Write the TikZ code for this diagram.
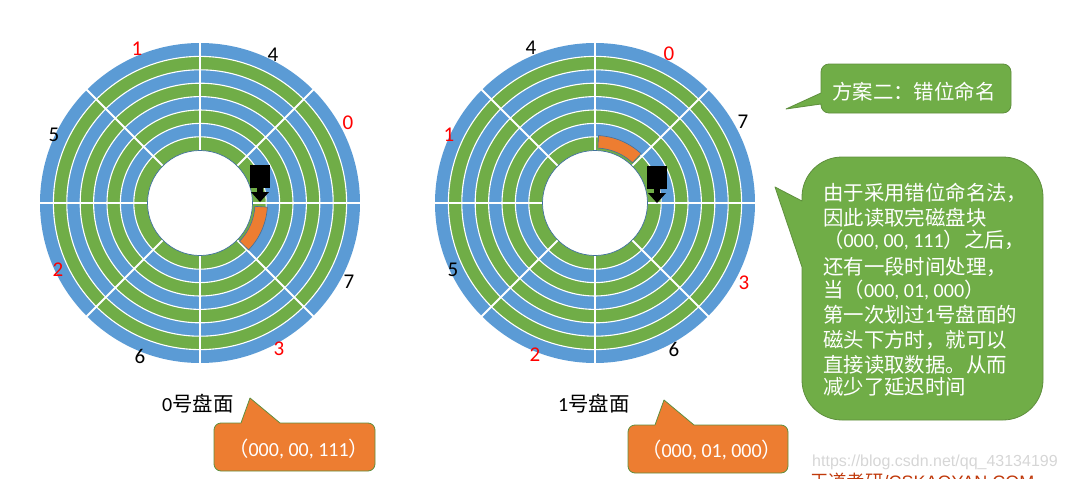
\documentclass[tikz,border=0pt]{standalone}
\usepackage{fontspec}
\setmainfont{Carlito}
\newfontfamily\cjk[Scale=1.02]{Noto Sans CJK SC}
\newfontfamily\arialish{Liberation Sans}
\definecolor{ringblue}{HTML}{5B9BD5}
\definecolor{ringgreen}{HTML}{70AD47}
\definecolor{boxorange}{HTML}{ED7D31}
\definecolor{edgegreen}{HTML}{5F8F3E}
\definecolor{edgeblue}{HTML}{41719C}
\definecolor{brand}{HTML}{C0390B}
\tikzset{
  x=1pt,y=-1pt,
  sep/.style={white,line width=2pt},
  ringline/.style={draw=white,line width=1.1pt},
  lbl/.style={font=\fontsize{21}{21}\selectfont,inner sep=0pt},
  redlbl/.style={lbl,text=red},
  caption/.style={font=\fontsize{20}{20}\selectfont,inner sep=0pt,anchor=base west},
  bubble/.style={draw=edgegreen,line width=.8pt,line join=round},
  bubtext/.style={font=\fontsize{20}{20}\selectfont,text=white,inner sep=0pt,anchor=base west},
  sector/.style={fill=boxorange,draw=edgeblue,line width=.6pt},
}
\newcommand{\platter}[2]{%
  \begin{scope}[shift={(#1,#2)}]
    \foreach \r/\c in {160/ringblue,146.6/ringgreen,133.2/ringblue,119.8/ringgreen,106.4/ringblue,93/ringgreen,79.6/ringblue,66.2/ringgreen}
      \fill[\c] (0,0) circle[radius=\r];
    \foreach \r in {146.6,133.2,119.8,106.4,93,79.6,66.2}
      \draw[ringline] (0,0) circle[radius=\r];
    \foreach \a in {0,45,90,135}
      \draw[sep] (\a:161) -- (\a+180:161);
    \fill[white,draw=edgeblue,line width=.7pt] (0,0) circle[radius=52.5];
  \end{scope}}
\newcommand{\orangeseg}[4]{%
  \begin{scope}[shift={(#1,#2)}]
    \draw[sector] plot[domain=#3:#4,samples=16] (\x:67.5) -- plot[domain=#4:#3,samples=16] (\x:55) -- cycle;
  \end{scope}}
\newcommand{\rwhead}[2]{%
  \fill[black] (#1-10,#2-37) rectangle (#1+10,#2-14);
  \fill[black] (#1-3,#2-14) -- (#1+3,#2-14) -- (#1+3,#2-10) -- (#1+9,#2-10) -- (#1,#2) -- (#1-9,#2-10) -- (#1-3,#2-10) -- cycle;}
\begin{document}
\begin{tikzpicture}
\useasboundingbox (0,0) rectangle (1066,479);
\clip (0,0) rectangle (1066,479);

% platter 0
\platter{200}{203}
\orangeseg{200}{203}{3.5}{44}
\rwhead{260}{202}
\node[redlbl] (a1) at (137,49) {1};
\node[lbl] (a4) at (273,55) {4};
\node[redlbl] (a0) at (348,123) {0};
\node[lbl] (a5) at (54,135) {5};
\node[lbl] (a7) at (349,282) {7};
\node[redlbl] (a2) at (58,270) {2};
\node[redlbl] (a3) at (279,349) {3};
\node[lbl] (a6) at (140,356) {6};

% platter 1
\platter{595}{203}
\orangeseg{595}{203}{-87}{-47}
\rwhead{657}{203}
\node[lbl] (b4) at (531,48) {4};
\node[redlbl] (b0) at (669,54) {0};
\node[lbl] (b7) at (743,122) {7};
\node[redlbl] (b1) at (449,135) {1};
\node[redlbl] (b3) at (744,283) {3};
\node[lbl] (b5) at (453,270) {5};
\node[redlbl] (b2) at (535,355) {2};
\node[lbl] (b6) at (674,349) {6};

% captions
\node[caption] (capa) at (162,411) {0{\cjk 号盘面}};
\node[caption] (capb) at (558,411) {1{\cjk 号盘面}};

% orange callouts
\path[bubble,fill=boxorange] (241,423) -- (250,398) -- (280,423) -- (368,423)
  arc[start angle=-90,end angle=0,radius=7] -- (375,464)
  arc[start angle=0,end angle=90,radius=7] -- (221,471)
  arc[start angle=90,end angle=180,radius=7] -- (214,430)
  arc[start angle=180,end angle=270,radius=7] -- cycle;
\node[bubtext] (ta) at (228,456) {{\cjk （}000, 00, 111{\cjk ）}};
\path[bubble,fill=boxorange] (655,425) -- (664,400) -- (694,425) -- (781,425)
  arc[start angle=-90,end angle=0,radius=7] -- (788,466)
  arc[start angle=0,end angle=90,radius=7] -- (635,473)
  arc[start angle=90,end angle=180,radius=7] -- (628,432)
  arc[start angle=180,end angle=270,radius=7] -- cycle;
\node[bubtext] (tb) at (641,457) {{\cjk （}000, 01, 000{\cjk ）}};

% green callouts
\path[bubble,fill=ringgreen] (821,93) -- (786,109) -- (821,104) -- (821,105)
  arc[start angle=180,end angle=90,radius=8] -- (1003,113)
  arc[start angle=90,end angle=0,radius=8] -- (1011,72)
  arc[start angle=0,end angle=-90,radius=8] -- (829,64)
  arc[start angle=-90,end angle=-180,radius=8] -- cycle;
\node[bubtext] (tc) at (832,99) {\cjk 方案二：错位命名};

\path[bubble,fill=ringgreen] (802,201) -- (775,187) -- (802,267) -- (802,380)
  arc[start angle=180,end angle=90,radius=40] -- (1003,420)
  arc[start angle=90,end angle=0,radius=40] -- (1043,197)
  arc[start angle=0,end angle=-90,radius=40] -- (842,157)
  arc[start angle=-90,end angle=-180,radius=40] -- cycle;
\node[bubtext] (l1) at (823,200) {\cjk 由于采用错位命名法，};
\node[bubtext] (l2) at (823,225) {\cjk 因此读取完磁盘块};
\node[bubtext] (l3) at (823,247) {{\cjk （}000, 00, 111{\cjk ）之后，}};
\node[bubtext] (l4) at (823,274) {\cjk 还有一段时间处理，};
\node[bubtext] (l5) at (823,297) {{\cjk 当（}000, 01, 000{\cjk ）}};
\node[bubtext] (l6) at (823,322) {{\cjk 第一次划过}1{\cjk 号盘面的}};
\node[bubtext] (l7) at (823,347) {\cjk 磁头下方时，就可以};
\node[bubtext] (l8) at (823,372) {\cjk 直接读取数据。从而};
\node[bubtext] (l9) at (823,394) {\cjk 减少了延迟时间};

% watermarks
\node[inner sep=0pt,anchor=base west,text=black!16,font=\arialish\fontsize{16}{16}\selectfont] (wm) at (812,466) {https://blog.csdn.net/qq\_43134199};
\node[inner sep=0pt,anchor=base west,text=brand,font=\arialish\fontsize{18}{18}\selectfont] (br) at (810,488) {{\cjk 王道考研}/CSKAOYAN.COM};
\end{tikzpicture}
\end{document}
